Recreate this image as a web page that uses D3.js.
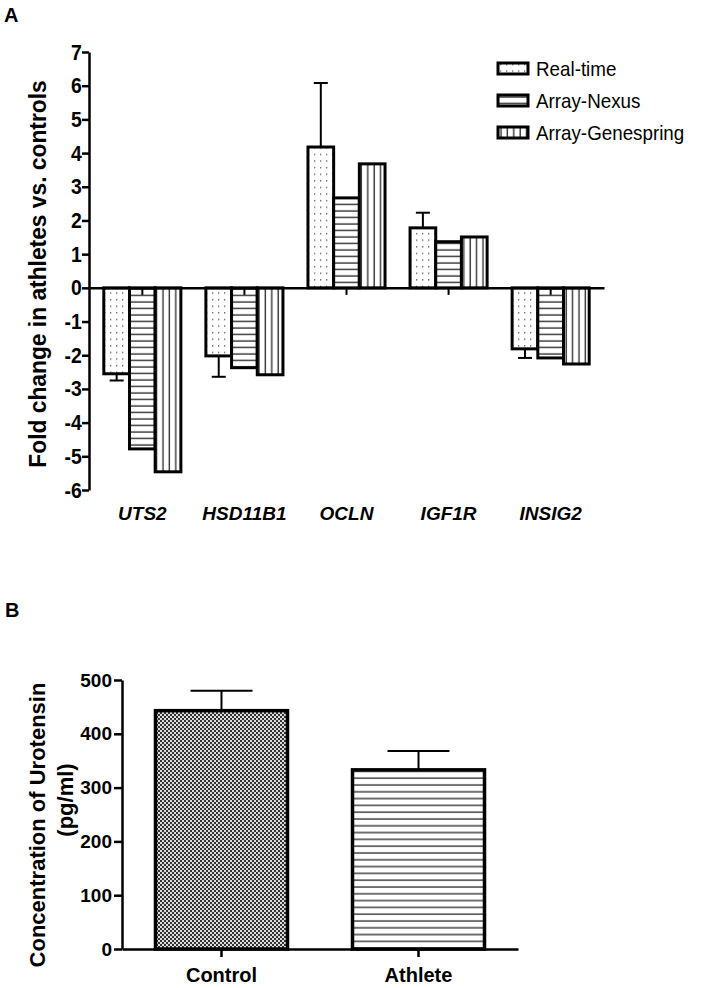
<!DOCTYPE html>
<html><head><meta charset="utf-8">
<script src="https://cdn.jsdelivr.net/npm/d3@7"></script>
<style>
body{margin:0;background:#fff;}
svg{display:block;font-family:"Liberation Sans",Arial,sans-serif;}
</style></head>
<body><svg id="c" width="708" height="988"></svg>
<script>
// ---- Panel A data ----
const genes = ["UTS2","HSD11B1","OCLN","IGF1R","INSIG2"];
const seriesNames = ["Real-time","Array-Nexus","Array-Genespring"];
const realTime = [-2.55,-2.02,4.18,1.78,-1.81];
const realTimeErr = [0.2,0.62,1.9,0.45,0.27];
const arrayNexus = [-4.78,-2.37,2.67,1.37,-2.08];
const arrayGenespring = [-5.46,-2.58,3.68,1.51,-2.26];
const yTicksA = [-6,-5,-4,-3,-2,-1,0,1,2,3,4,5,6,7];
// ---- Panel B data ----
const groupsB = ["Control","Athlete"];
const valuesB = [443,333];
const errB = [37,35];
const yTicksB = [0,100,200,300,400,500];

const FONT = "'Liberation Sans',Arial,sans-serif";
const svg = d3.select("#c");
const defs = svg.append("defs");
// patterns
const pDots = defs.append("pattern").attr("id","pDots").attr("patternUnits","userSpaceOnUse").attr("width",6).attr("height",6.6);
pDots.append("rect").attr("width",6).attr("height",6.6).attr("fill","#fff");
pDots.append("rect").attr("x",2).attr("y",2).attr("width",1.3).attr("height",1.3).attr("fill","#555");
const pH = defs.append("pattern").attr("id","pH").attr("patternUnits","userSpaceOnUse").attr("width",8).attr("height",6.5);
pH.append("rect").attr("width",8).attr("height",6.5).attr("fill","#fff");
pH.append("line").attr("x1",0).attr("x2",8).attr("y1",3).attr("y2",3).attr("stroke","#333").attr("stroke-width",1.4);
const pV = defs.append("pattern").attr("id","pV").attr("patternUnits","userSpaceOnUse").attr("width",6.4).attr("height",8);
pV.append("rect").attr("width",6.4).attr("height",8).attr("fill","#fff");
pV.append("line").attr("y1",0).attr("y2",8).attr("x1",3).attr("x2",3).attr("stroke","#333").attr("stroke-width",1.4);
const pChk = defs.append("pattern").attr("id","pChk").attr("patternUnits","userSpaceOnUse").attr("width",4).attr("height",4);
pChk.append("rect").attr("width",4).attr("height",4).attr("fill","#ddd");
pChk.append("rect").attr("width",2).attr("height",2).attr("fill","#333");
pChk.append("rect").attr("x",2).attr("y",2).attr("width",2).attr("height",2).attr("fill","#333");
const pHB = defs.append("pattern").attr("id","pHB").attr("patternUnits","userSpaceOnUse").attr("width",8).attr("height",6.8);
pHB.append("rect").attr("width",8).attr("height",6.8).attr("fill","#fff");
pHB.append("line").attr("x1",0).attr("x2",8).attr("y1",3).attr("y2",3).attr("stroke","#444").attr("stroke-width",1.5);
const fills = {"Real-time":"url(#pDots)","Array-Nexus":"url(#pH)","Array-Genespring":"url(#pV)"};

// ================= Panel A =================
svg.append("text").attr("x",4).attr("y",22).attr("font-size",20).attr("font-weight","bold").text("A");

const xA = d3.scaleBand().domain(genes).range([89,604]).paddingInner(0.245).paddingOuter(0.145);
const xS = d3.scaleBand().domain(seriesNames).range([0,xA.bandwidth()]);
const yA = d3.scaleLinear().domain([-6,7]).range([490,52]);

const seriesVals = {"Real-time":realTime,"Array-Nexus":arrayNexus,"Array-Genespring":arrayGenespring};
const barsData = [];
genes.forEach((g,i)=>seriesNames.forEach(s=>barsData.push({g,s,v:seriesVals[s][i]})));

const gA = svg.append("g");
gA.selectAll("rect.bar").data(barsData).join("rect")
  .attr("x",d=>xA(d.g)+xS(d.s))
  .attr("width",xS.bandwidth())
  .attr("y",d=>yA(Math.max(0,d.v)))
  .attr("height",d=>Math.abs(yA(d.v)-yA(0)))
  .attr("fill",d=>fills[d.s]).attr("stroke","#000").attr("stroke-width",3);

// error bars (real-time)
const errA = genes.map((g,i)=>({g,v:realTime[i],e:realTimeErr[i]}));
const eg = gA.selectAll("g.err").data(errA).join("g");
const cxA = d=>xA(d.g)+xS("Real-time")+xS.bandwidth()/2;
eg.append("line").attr("x1",cxA).attr("x2",cxA)
  .attr("y1",d=>yA(d.v)).attr("y2",d=>yA(d.v+Math.sign(d.v)*d.e))
  .attr("stroke","#000").attr("stroke-width",2);
eg.append("line").attr("x1",d=>cxA(d)-7).attr("x2",d=>cxA(d)+7)
  .attr("y1",d=>yA(d.v+Math.sign(d.v)*d.e)).attr("y2",d=>yA(d.v+Math.sign(d.v)*d.e))
  .attr("stroke","#000").attr("stroke-width",2);

// y axis
const yAxA = svg.append("g").attr("transform","translate(89,0)")
  .call(d3.axisLeft(yA).tickValues(yTicksA).tickSize(7).tickSizeOuter(0).tickFormat(d=>String(d)));
yAxA.select(".domain").attr("stroke-width",2.5);
yAxA.selectAll(".tick line").attr("stroke-width",2.5);
yAxA.selectAll("text").attr("font-size",22).attr("font-weight","bold").attr("font-family",FONT).attr("fill","#000")
  .attr("x",-8.3).attr("transform","scale(0.88,1)");

// zero axis
const xAxA = svg.append("g").attr("transform",`translate(0,${yA(0)})`)
  .call(d3.axisBottom(xA).tickSize(7).tickSizeOuter(0).tickFormat(""));
xAxA.select(".domain").attr("stroke-width",2.5);
xAxA.selectAll(".tick line").attr("stroke-width",2);
// category labels
const xLabA = svg.append("g").attr("transform","translate(0,503)")
  .call(d3.axisBottom(xA).tickSize(0).tickPadding(3));
xLabA.select(".domain").remove();
xLabA.selectAll("text").attr("font-size",19).attr("font-weight","bold").attr("font-style","italic")
  .attr("font-family",FONT).attr("fill","#000");

svg.append("text").attr("transform","translate(46,274) rotate(-90) scale(0.95,1)").attr("text-anchor","middle")
  .attr("font-size",24).attr("font-weight","bold").text("Fold change in athletes vs. controls");

// legend
const leg = svg.append("g").selectAll("g").data(seriesNames).join("g")
  .attr("transform",(d,i)=>`translate(498,${68.5+i*32})`);
leg.append("rect").attr("x",0).attr("y",-5.5).attr("width",30).attr("height",11)
  .attr("fill",d=>fills[d]).attr("stroke","#000").attr("stroke-width",3);
leg.append("text").attr("x",38).attr("y",0).attr("dy","0.36em").attr("font-size",20)
  .attr("transform","translate(38,0) scale(0.94,1) translate(-38,0)").text(d=>d);

// ================= Panel B =================
svg.append("text").attr("x",5).attr("y",617).attr("font-size",20).attr("font-weight","bold").text("B");

const xB = d3.scaleBand().domain(groupsB).range([122,518]).paddingInner(0.33).paddingOuter(0.17);
const yB = d3.scaleLinear().domain([0,500]).range([949,680]);
const fillsB = {"Control":"url(#pChk)","Athlete":"url(#pHB)"};
const dataB = groupsB.map((g,i)=>({g,v:valuesB[i],e:errB[i]}));
const gB = svg.append("g");
gB.selectAll("rect").data(dataB).join("rect")
  .attr("x",d=>xB(d.g)).attr("width",xB.bandwidth())
  .attr("y",d=>yB(d.v)).attr("height",d=>yB(0)-yB(d.v))
  .attr("fill",d=>fillsB[d.g]).attr("stroke","#000").attr("stroke-width",3.5);
const cxB = d=>xB(d.g)+xB.bandwidth()/2;
gB.selectAll("line.ev").data(dataB).join("line").attr("class","ev")
  .attr("x1",cxB).attr("x2",cxB).attr("y1",d=>yB(d.v)).attr("y2",d=>yB(d.v+d.e))
  .attr("stroke","#000").attr("stroke-width",2);
gB.selectAll("line.ec").data(dataB).join("line").attr("class","ec")
  .attr("x1",d=>cxB(d)-31).attr("x2",d=>cxB(d)+31).attr("y1",d=>yB(d.v+d.e)).attr("y2",d=>yB(d.v+d.e))
  .attr("stroke","#000").attr("stroke-width",2);

const yAxB = svg.append("g").attr("transform","translate(122,0)")
  .call(d3.axisLeft(yB).tickValues(yTicksB).tickSize(8).tickSizeOuter(0).tickPadding(2));
yAxB.select(".domain").attr("stroke-width",2.5);
yAxB.selectAll(".tick line").attr("stroke-width",2.5);
yAxB.selectAll("text").attr("font-size",19).attr("font-weight","bold").attr("font-family",FONT).attr("fill","#000");

const xAxB = svg.append("g").attr("transform",`translate(0,${yB(0)})`)
  .call(d3.axisBottom(xB).tickSize(8).tickSizeOuter(0).tickPadding(11));
xAxB.select(".domain").attr("stroke-width",2.5);
xAxB.selectAll(".tick line").attr("stroke-width",2.5);
xAxB.selectAll("text").attr("font-size",20).attr("font-weight","bold").attr("font-family",FONT).attr("fill","#000");

svg.append("text").attr("transform","translate(45,825) rotate(-90)").attr("text-anchor","middle")
  .attr("font-size",22).attr("font-weight","bold").text("Concentration of Urotensin");
svg.append("text").attr("transform","translate(73,800) rotate(-90)").attr("text-anchor","middle")
  .attr("font-size",22).attr("font-weight","bold").text("(pg/ml)");
</script></body></html>
